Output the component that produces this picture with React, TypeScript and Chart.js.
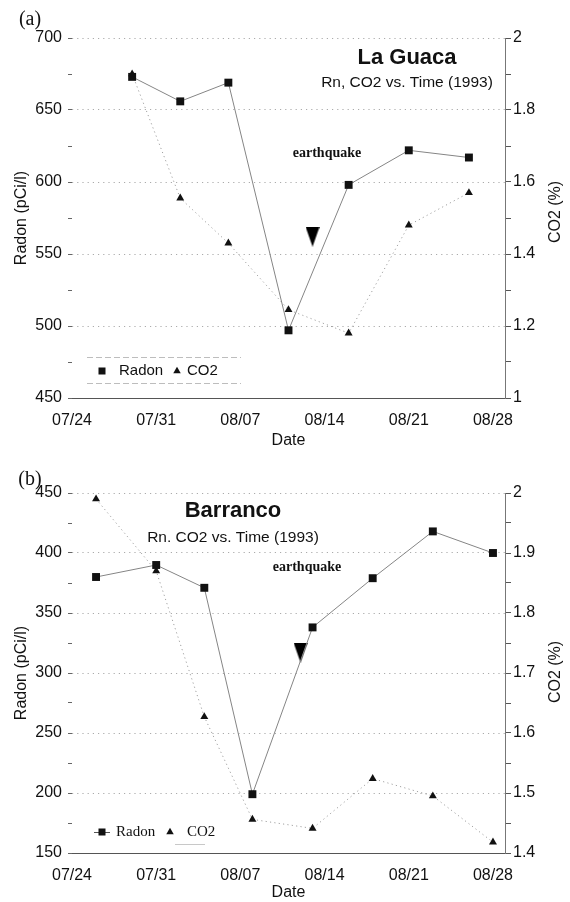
import React, { useEffect, useRef } from 'react';
import { Chart, registerables } from 'chart.js';

Chart.register(...registerables);

// ---------------- data ----------------
const X_START_DATE = '07/24';
const X_END_DATE = '08/29';
const DATE_TICKS = ['07/24', '07/31', '08/07', '08/14', '08/21', '08/28'];

// (a) La Guaca
const GUACA_DATES = ['07/29', '08/02', '08/06', '08/11', '08/16', '08/21', '08/26'];
const GUACA_RADON = [673, 656, 669, 497, 598, 622, 617];
const GUACA_CO2 = [1.9, 1.555, 1.43, 1.245, 1.18, 1.48, 1.57];
const GUACA_QUAKE_DATE = '08/13';
const GUACA_QUAKE_RADON = 562;
const GUACA_RADON_TICKS = ['450', '500', '550', '600', '650', '700'];
const GUACA_CO2_TICKS = ['1', '1.2', '1.4', '1.6', '1.8', '2'];

// (b) Barranco
const BARRANCO_DATES = ['07/26', '07/31', '08/04', '08/08', '08/13', '08/18', '08/23', '08/28'];
const BARRANCO_RADON = [380, 390, 371, 199, 338, 379, 418, 400];
const BARRANCO_CO2 = [1.99, 1.87, 1.627, 1.456, 1.441, 1.524, 1.495, 1.418];
const BARRANCO_QUAKE_DATE = '08/12';
const BARRANCO_QUAKE_RADON = 317;
const BARRANCO_RADON_TICKS = ['150', '200', '250', '300', '350', '400', '450'];
const BARRANCO_CO2_TICKS = ['1.4', '1.5', '1.6', '1.7', '1.8', '1.9', '2'];

// ---------------- helpers ----------------
const INK = '#111111';
const GRID = '#ababab';
const SANS = '"Liberation Sans", Arial, Helvetica, sans-serif';
const SERIF = '"Liberation Serif", "Times New Roman", serif';

Chart.defaults.font.family = SANS;
Chart.defaults.color = INK;

function dayOf(md: string): number {
  const [m, d] = md.split('/').map(Number);
  const [m0, d0] = X_START_DATE.split('/').map(Number);
  return Math.round((Date.UTC(1993, m - 1, d) - Date.UTC(1993, m0 - 1, d0)) / 86400000);
}

function matchLabel(labels: string[], v: number): string {
  const hit = labels.find((l) => Math.abs(Number(l) - v) < 1e-6);
  return hit === undefined ? '' : hit;
}

function quakeGlyph(): HTMLCanvasElement {
  const c = document.createElement('canvas');
  c.width = 14;
  c.height = 20;
  const g = c.getContext('2d')!;
  g.fillStyle = '#000';
  g.beginPath();
  g.moveTo(0, 0);
  g.lineTo(14, 0);
  g.lineTo(7, 20);
  g.closePath();
  g.fill();
  return c;
}

interface Spec {
  tag: string;
  title: string;
  subtitle: string;
  dates: string[];
  radon: number[];
  co2: number[];
  quakeDate: string;
  quakeRadon: number;
  radonTicks: string[];
  co2Ticks: string[];
  radonStep: number;
  co2Step: number;
  titleX: number;
  titleY: number;
  subtitleY: number;
  quakeLabelX: number;
  quakeLabelY: number;
  tagY: number;
  co2TitleY: number;
  legendSerif: boolean;
  legendY: number;
  height: number;
}

function drawTri(ctx: CanvasRenderingContext2D, x: number, y: number, w: number, h: number) {
  ctx.beginPath();
  ctx.moveTo(x, y - h / 2);
  ctx.lineTo(x + w / 2, y + h / 2);
  ctx.lineTo(x - w / 2, y + h / 2);
  ctx.closePath();
  ctx.fill();
}

function decorPlugin(spec: Spec) {
  return {
    id: 'decor',
    afterDraw(chart: Chart) {
      const ctx = chart.ctx;
      ctx.save();
      ctx.fillStyle = INK;
      ctx.textAlign = 'center';
      ctx.textBaseline = 'middle';

      ctx.font = `20px ${SERIF}`;
      ctx.fillText(spec.tag, 30, spec.tagY);

      ctx.font = `bold 22px ${SANS}`;
      ctx.fillText(spec.title, spec.titleX, spec.titleY);
      ctx.font = `15.5px ${SANS}`;
      ctx.fillText(spec.subtitle, spec.titleX, spec.subtitleY);

      ctx.font = `bold 14px ${SERIF}`;
      ctx.fillText('earthquake', spec.quakeLabelX, spec.quakeLabelY);

      // right axis title, reading bottom-to-top
      ctx.save();
      ctx.translate(556, spec.co2TitleY);
      ctx.rotate(-Math.PI / 2);
      ctx.font = `16px ${SANS}`;
      ctx.fillText('CO2 (%)', 0, 0);
      ctx.restore();

      // legend
      const ly = spec.legendY;
      const ds = chart.data.datasets;
      ctx.textAlign = 'left';
      if (!spec.legendSerif) {
        ctx.strokeStyle = '#bdbdbd';
        ctx.lineWidth = 1;
        ctx.setLineDash([6, 3]);
        ctx.beginPath();
        ctx.moveTo(87, ly - 13.5);
        ctx.lineTo(241, ly - 13.5);
        ctx.moveTo(87, ly + 12.5);
        ctx.lineTo(241, ly + 12.5);
        ctx.stroke();
        ctx.setLineDash([]);
        ctx.fillRect(98.5, ly - 3.5, 7, 7);
        ctx.font = `15px ${SANS}`;
        ctx.fillText(String(ds[0].label), 119, ly);
        drawTri(ctx, 177, ly - 1, 7.5, 6.5);
        ctx.fillText(String(ds[1].label), 187, ly);
      } else {
        ctx.strokeStyle = '#555';
        ctx.lineWidth = 1;
        ctx.beginPath();
        ctx.moveTo(94, ly + 0.5);
        ctx.lineTo(110, ly + 0.5);
        ctx.stroke();
        ctx.fillRect(98.5, ly - 3.5, 7, 7);
        ctx.font = `15px ${SERIF}`;
        ctx.fillText(String(ds[0].label), 116, ly);
        drawTri(ctx, 170, ly - 1, 7.5, 6.5);
        ctx.fillText(String(ds[1].label), 187, ly);
        ctx.strokeStyle = '#c8c8c8';
        ctx.beginPath();
        ctx.moveTo(175, ly + 12.5);
        ctx.lineTo(205, ly + 12.5);
        ctx.stroke();
      }
      ctx.restore();
    },
  };
}

function buildConfig(spec: Spec): any {
  const rMin = Number(spec.radonTicks[0]);
  const rMax = Number(spec.radonTicks[spec.radonTicks.length - 1]);
  const cMin = Number(spec.co2Ticks[0]);
  const cMax = Number(spec.co2Ticks[spec.co2Ticks.length - 1]);
  return {
    type: 'line',
    data: {
      datasets: [
        {
          label: 'Radon',
          data: spec.dates.map((d, i) => ({ x: dayOf(d), y: spec.radon[i] })),
          yAxisID: 'y',
          borderColor: '#858585',
          borderWidth: 1,
          pointStyle: 'rect',
          pointRadius: 5.6,
          pointBackgroundColor: INK,
          pointBorderWidth: 0,
          tension: 0,
        },
        {
          label: 'CO2',
          data: spec.dates.map((d, i) => ({ x: dayOf(d), y: spec.co2[i] })),
          yAxisID: 'y1',
          borderColor: '#a0a0a0',
          borderWidth: 1,
          borderDash: [1.2, 3.2],
          pointStyle: 'triangle',
          pointRadius: 4.6,
          pointBackgroundColor: INK,
          pointBorderWidth: 0,
          tension: 0,
        },
        {
          label: 'earthquake',
          data: [{ x: dayOf(spec.quakeDate), y: spec.quakeRadon }],
          yAxisID: 'y',
          showLine: false,
          pointStyle: quakeGlyph(),
          pointRadius: 10,
        },
      ],
    },
    options: {
      responsive: false,
      maintainAspectRatio: false,
      animation: false,
      devicePixelRatio: 1,
      events: [],
      layout: { padding: { top: 38, left: 0, right: 0, bottom: 0 } },
      plugins: {
        legend: { display: false },
        tooltip: { enabled: false },
      },
      scales: {
        x: {
          type: 'linear',
          min: 0,
          max: dayOf(X_END_DATE),
          bounds: 'data',
          ticks: {
            stepSize: 7,
            includeBounds: false,
            autoSkip: false,
            maxRotation: 0,
            padding: 13,
            color: INK,
            font: { size: 16 },
            callback: (v: number) => {
              const hit = DATE_TICKS.find((t) => dayOf(t) === v);
              return hit === undefined ? '' : hit;
            },
          },
          grid: { display: true, drawOnChartArea: false, drawTicks: false, color: 'rgba(0,0,0,0)' },
          border: { display: true, color: '#555', width: 1 },
          title: { display: true, text: 'Date', color: INK, font: { size: 16 }, padding: { top: 0, bottom: 0 } },
          afterFit: (s: any) => {
            s.height = spec.height - 398;
          },
        },
        y: {
          type: 'linear',
          position: 'left',
          min: rMin,
          max: rMax,
          ticks: {
            stepSize: spec.radonStep,
            padding: 6,
            color: INK,
            font: { size: 16 },
            callback: (v: number) => matchLabel(spec.radonTicks, v),
          },
          grid: {
            color: (c: any) => (matchLabel(spec.radonTicks, c.tick ? c.tick.value : NaN) !== '' ? GRID : 'rgba(0,0,0,0)'),
            tickColor: '#666',
            tickLength: 4,
            lineWidth: 1,
          },
          border: { display: false, dash: [1.2, 4] },
          title: {
            display: true,
            text: 'Radon (pCi/l)',
            color: INK,
            font: { size: 16 },
            padding: { top: 12, bottom: 0 },
          },
          afterFit: (s: any) => {
            s.width = 72;
          },
        },
        y1: {
          type: 'linear',
          position: 'right',
          min: cMin,
          max: cMax,
          ticks: {
            stepSize: spec.co2Step,
            padding: 2,
            color: INK,
            font: { size: 16 },
            callback: (v: number) => matchLabel(spec.co2Ticks, v),
          },
          grid: { drawOnChartArea: false, tickLength: 6, tickColor: '#555', color: '#555' },
          border: { display: true, color: '#777', width: 1 },
          afterFit: (s: any) => {
            s.width = 65;
          },
        },
      },
    },
    plugins: [decorPlugin(spec)],
  };
}

const GUACA_SPEC: Spec = {
  tag: '(a)',
  title: 'La Guaca',
  subtitle: 'Rn, CO2 vs. Time (1993)',
  dates: GUACA_DATES,
  radon: GUACA_RADON,
  co2: GUACA_CO2,
  quakeDate: GUACA_QUAKE_DATE,
  quakeRadon: GUACA_QUAKE_RADON,
  radonTicks: GUACA_RADON_TICKS,
  co2Ticks: GUACA_CO2_TICKS,
  radonStep: 25,
  co2Step: 0.1,
  titleX: 407,
  titleY: 58,
  subtitleY: 83,
  quakeLabelX: 327,
  quakeLabelY: 153,
  tagY: 20,
  co2TitleY: 212,
  legendSerif: false,
  legendY: 371,
  height: 450,
};

const BARRANCO_SPEC: Spec = {
  tag: '(b)',
  title: 'Barranco',
  subtitle: 'Rn. CO2 vs. Time (1993)',
  dates: BARRANCO_DATES,
  radon: BARRANCO_RADON,
  co2: BARRANCO_CO2,
  quakeDate: BARRANCO_QUAKE_DATE,
  quakeRadon: BARRANCO_QUAKE_RADON,
  radonTicks: BARRANCO_RADON_TICKS,
  co2Ticks: BARRANCO_CO2_TICKS,
  radonStep: 25,
  co2Step: 0.05,
  titleX: 233,
  titleY: 56,
  subtitleY: 83,
  quakeLabelX: 307,
  quakeLabelY: 112,
  tagY: 25,
  co2TitleY: 217,
  legendSerif: true,
  legendY: 377,
  height: 447,
};

function Panel({ spec, top }: { spec: Spec; top: number }) {
  const ref = useRef<HTMLCanvasElement>(null);
  useEffect(() => {
    const chart = new Chart(ref.current!, buildConfig(spec));
    return () => chart.destroy();
  }, [spec]);
  return (
    <canvas
      ref={ref}
      width={570}
      height={spec.height}
      style={{ position: 'absolute', left: 0, top, width: 570, height: spec.height }}
    />
  );
}

export default function App() {
  return (
    <div
      style={{
        position: 'absolute',
        left: 0,
        top: 0,
        width: 570,
        height: 902,
        background: '#ffffff',
        overflow: 'hidden',
      }}
    >
      <Panel spec={GUACA_SPEC} top={0} />
      <Panel spec={BARRANCO_SPEC} top={455} />
    </div>
  );
}
